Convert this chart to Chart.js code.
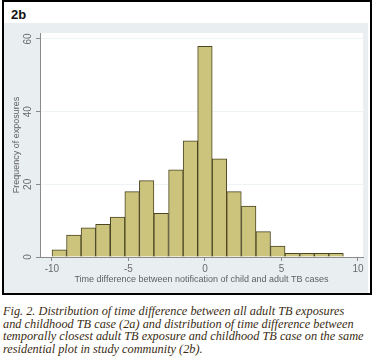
<!DOCTYPE html>
<html>
<head>
<meta charset="utf-8">
<script src="https://cdn.jsdelivr.net/npm/chart.js@4/dist/chart.umd.min.js"></script>
<style>
  body { margin: 0; width: 377px; height: 359px; background: #fff; position: relative; overflow: hidden; }
  #box { position: absolute; left: 2px; top: 0; width: 366px; height: 291px; border: 2px solid #000; background: #fff; }
  #tag { position: absolute; left: 7px; top: 5px; font: bold 13px "Liberation Sans", Arial, sans-serif; color: #111; }
  #bg { position: absolute; left: 0; top: 21px; width: 364px; height: 270px; background: #e9eff1; }
  #caption { position: absolute; left: 3px; top: 305px; font: italic 12.3px "Liberation Serif", "DejaVu Serif", serif;
             line-height: 12.7px; color: #3a2c12; white-space: nowrap; }
</style>
</head>
<body>
<div id="box">
  <div id="tag">2b</div>
  <div id="bg"><canvas id="hist" width="364" height="270"></canvas></div>
</div>
<div id="caption">Fig. 2. Distribution of time difference between all adult TB exposures<br>and childhood TB case (2a) and distribution of time difference between<br>temporally closest adult TB exposure and childhood TB case on the same<br>residential plot in study community (2b).</div>

<script>
// bin centres (years) and counts
const binCenters = [-9.52, -8.57, -7.62, -6.67, -5.71, -4.76, -3.81, -2.86, -1.90, -0.95,
                    0.00, 0.95, 1.90, 2.86, 3.81, 4.76, 5.71, 6.67, 7.62, 8.57];
const counts = [2, 6, 8, 9, 11, 18, 21, 12, 24, 32, 58, 27, 18, 14, 7, 3, 1, 1, 1, 1];
const xTicks = [-10, -5, 0, 5, 10];
const yTicks = [0, 20, 40, 60];

const tickFont = { family: '"Liberation Sans", Arial, sans-serif', size: 10 };

// white plot region like Stata's plotregion
const plotBg = {
    id: 'plotBg',
    beforeDraw(chart) {
        const a = chart.chartArea;
        const ctx = chart.ctx;
        ctx.save();
        ctx.fillStyle = '#ffffff';
        ctx.fillRect(a.left, a.top, a.right - a.left, a.bottom - a.top);
        ctx.restore();
    }
};

new Chart(document.getElementById('hist'), {
    type: 'bar',
    data: {
        datasets: [{
            data: binCenters.map((x, i) => ({ x: x, y: counts[i] })),
            backgroundColor: '#ccc47d',
            borderColor: '#4a4522',
            borderWidth: 1,
            barPercentage: 1,
            categoryPercentage: 1
        }]
    },
    options: {
        responsive: false,
        animation: false,
        layout: { padding: { left: 0, right: 5, top: 10, bottom: 0 } },
        plugins: { legend: { display: false }, tooltip: { enabled: false } },
        scales: {
            x: {
                type: 'linear',
                offset: false,
                min: -10.78,
                max: 10.33,
                afterFit: s => { s.height = 36; },
                afterBuildTicks: s => { s.ticks = xTicks.map(v => ({ value: v })); },
                border: { color: '#8a8a8a', width: 1 },
                grid: { drawOnChartArea: false, offset: false, tickLength: 4, tickColor: '#8a8a8a' },
                ticks: { font: tickFont, color: '#6a6a6a', padding: 2, maxRotation: 0 },
                title: {
                    display: true,
                    text: 'Time difference between notification of child and adult TB cases',
                    font: { family: '"Liberation Sans", Arial, sans-serif', size: 9 },
                    color: '#5f5f5f',
                    padding: { top: 8, bottom: 8 }
                }
            },
            y: {
                min: 0,
                max: 61.65,
                afterFit: s => { s.width = 36; },
                afterBuildTicks: s => { s.ticks = yTicks.map(v => ({ value: v })); },
                border: { color: '#8a8a8a', width: 1 },
                grid: { color: '#eef3f4', tickLength: 4, tickColor: '#8a8a8a' },
                ticks: { font: tickFont, color: '#6a6a6a', padding: 2.5, minRotation: 90, maxRotation: 90, crossAlign: 'center' },
                title: {
                    display: true,
                    text: 'Frequency of exposures',
                    font: { family: '"Liberation Sans", Arial, sans-serif', size: 9 },
                    color: '#5f5f5f',
                    padding: { top: 7, bottom: 7 }
                }
            }
        }
    },
    plugins: [plotBg]
});
</script>
</body>
</html>
